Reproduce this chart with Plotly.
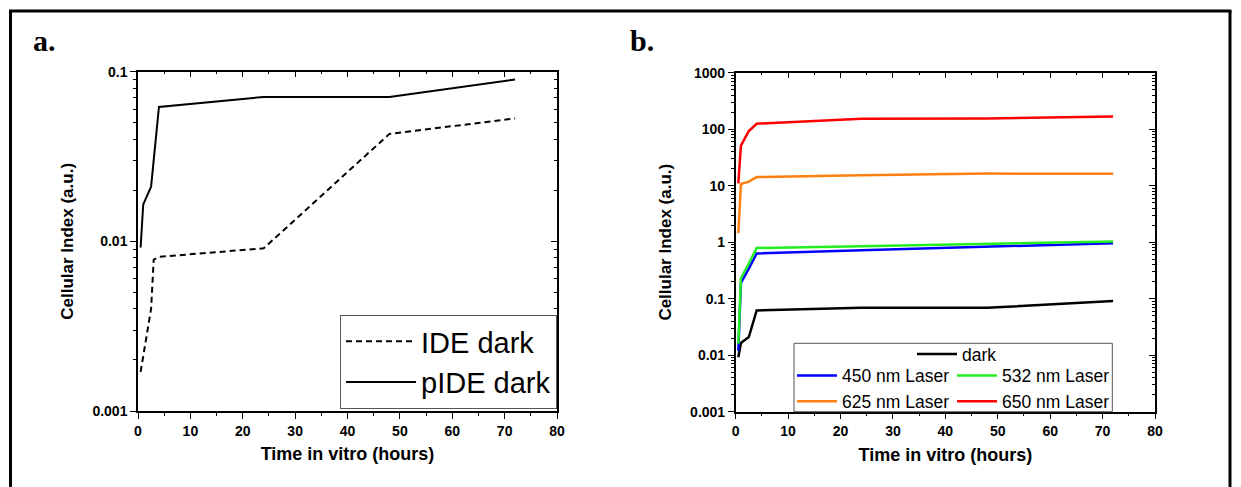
import plotly.graph_objects as go

# ---------------- data ----------------
# Panel a
time_ide = [0.5, 1.5, 2.5, 3.0, 4.0, 24.0, 48.0, 72.0]
ide_dark = [0.0017, 0.0026, 0.0040, 0.0078, 0.0081, 0.0091, 0.043, 0.053]
time_pide = [0.5, 1.0, 2.5, 4.0, 24.0, 48.0, 72.0]
pide_dark = [0.0092, 0.0165, 0.021, 0.062, 0.071, 0.071, 0.090]

# Panel b
time_b = [0.5, 1.0, 2.5, 4.0, 24.0, 48.0, 72.0]
dark_b = [0.0092, 0.0165, 0.021, 0.062, 0.069, 0.069, 0.091]
laser_450 = [0.012, 0.19, 0.34, 0.63, 0.72, 0.84, 0.96]
laser_532 = [0.016, 0.23, 0.42, 0.79, 0.85, 0.93, 1.03]
laser_625 = [1.45, 10.7, 11.8, 14.2, 15.3, 16.4, 16.2]
laser_650 = [11.0, 51.0, 93.0, 125.0, 153.0, 155.0, 168.0]

# tick labels
x_ticks = [0, 10, 20, 30, 40, 50, 60, 70, 80]
ya_tickvals = [0.001, 0.01, 0.1]
ya_ticktext = ["0.001", "0.01", "0.1"]
yb_tickvals = [0.001, 0.01, 0.1, 1, 10, 100, 1000]
yb_ticktext = ["0.001", "0.01", "0.1", "1", "10", "100", "1000"]

W, H = 1241, 487
OFF = 8  # page body margin offset
FONT = "Arial, 'Liberation Sans', sans-serif"


def px_x(p):
    return (p - OFF) / W


def px_y(p):
    return 1 - (p - OFF) / H


fig = go.Figure()

# ---- panel a traces ----
fig.add_trace(go.Scatter(x=time_ide, y=ide_dark, mode="lines", name="IDE dark",
                         line=dict(color="black", width=2, dash="6px,4px"),
                         xaxis="x", yaxis="y", legend="legend"))
fig.add_trace(go.Scatter(x=time_pide, y=pide_dark, mode="lines", name="pIDE dark",
                         line=dict(color="black", width=2),
                         xaxis="x", yaxis="y", legend="legend"))

# ---- panel b traces ----
fig.add_trace(go.Scatter(x=time_b, y=dark_b, mode="lines", name="dark",
                         line=dict(color="black", width=2.5),
                         xaxis="x2", yaxis="y2", legend="legend2"))
fig.add_trace(go.Scatter(x=time_b, y=laser_450, mode="lines", name="450 nm Laser",
                         line=dict(color="#0000FF", width=2.5),
                         xaxis="x2", yaxis="y2", legend="legend3"))
fig.add_trace(go.Scatter(x=time_b, y=laser_532, mode="lines", name="532 nm Laser",
                         line=dict(color="#22EE22", width=2.5),
                         xaxis="x2", yaxis="y2", legend="legend4"))
fig.add_trace(go.Scatter(x=time_b, y=laser_625, mode="lines", name="625 nm Laser",
                         line=dict(color="#FF8010", width=2.5),
                         xaxis="x2", yaxis="y2", legend="legend3"))
fig.add_trace(go.Scatter(x=time_b, y=laser_650, mode="lines", name="650 nm Laser",
                         line=dict(color="#FF0000", width=2.5),
                         xaxis="x2", yaxis="y2", legend="legend4"))

# dummy traces so the mirrored (inside-tick) axes are drawn
for xa, ya in (("x3", "y"), ("x", "y3"), ("x4", "y2"), ("x2", "y4")):
    fig.add_trace(go.Scatter(x=[None], y=[None], xaxis=xa, yaxis=ya,
                             showlegend=False, hoverinfo="skip"))

tickfont = dict(family=FONT, size=14, color="black", weight="bold")
xtitlefont = dict(family=FONT, size=18, color="black", weight="bold")
ytitlefont = dict(family=FONT, size=17, color="black", weight="bold")

dom_xa = [px_x(138), px_x(557)]
dom_ya = [px_y(411), px_y(71.7)]
dom_xb = [px_x(735.7), px_x(1155)]
dom_yb = [px_y(411.7), px_y(72.7)]

common_x = dict(range=[0, 80], tickvals=x_ticks, ticks="outside", ticklen=6, tickwidth=1.2,
                tickcolor="black", showline=True, linecolor="black", linewidth=1.5,
                showgrid=False, zeroline=False, tickfont=tickfont, automargin=False,
                minor=dict(dtick=5, ticks="outside", ticklen=3, tickwidth=1.2, tickcolor="black",
                           showgrid=False))
common_y = dict(type="log", ticks="outside", ticklen=6, tickwidth=1.2, tickcolor="black",
                showline=True, linecolor="black", linewidth=1.5, showgrid=False,
                zeroline=False, tickfont=tickfont, automargin=False,
                minor=dict(dtick="D1", ticks="outside", ticklen=3, tickwidth=1, tickcolor="black",
                           showgrid=False))
mirror_x = dict(side="top", range=[0, 80], tickvals=x_ticks,
                ticks="inside", ticklen=6, tickwidth=1.2, tickcolor="black",
                showticklabels=False, showline=True, linecolor="black", linewidth=1.5,
                showgrid=False, zeroline=False, automargin=False,
                minor=dict(dtick=5, ticks="inside", ticklen=3, tickwidth=1.2, tickcolor="black"))
mirror_y = dict(side="right", type="log", ticks="inside", ticklen=6, tickwidth=1.2,
                tickcolor="black", showticklabels=False, showline=True, linecolor="black",
                linewidth=1.5, showgrid=False, zeroline=False, automargin=False,
                minor=dict(dtick="D1", ticks="inside", ticklen=3, tickwidth=1, tickcolor="black"))

fig.update_layout(
    template="none",
    width=W, height=H, autosize=False,
    margin=dict(l=0, r=0, t=0, b=0, pad=0),
    paper_bgcolor="white", plot_bgcolor="white",
    font=dict(family=FONT, color="black"),
    xaxis=dict(domain=dom_xa, anchor="y",
               title=dict(text="Time in vitro (hours)", font=xtitlefont, standoff=10),
               **common_x),
    yaxis=dict(domain=dom_ya, anchor="x", range=[-3, -1], tickvals=ya_tickvals,
               ticktext=ya_ticktext,
               title=dict(text="Cellular Index (a.u.)", font=ytitlefont, standoff=14),
               **common_y),
    xaxis2=dict(domain=dom_xb, anchor="y2",
                title=dict(text="Time in vitro (hours)", font=xtitlefont, standoff=10),
                **common_x),
    yaxis2=dict(domain=dom_yb, anchor="x2", range=[-3, 3], tickvals=yb_tickvals,
                ticktext=yb_ticktext,
                title=dict(text="Cellular Index (a.u.)", font=ytitlefont, standoff=14),
                **common_y),
    # mirrored axes with inward ticks (top / right)
    xaxis3=dict(overlaying="x", anchor="y", **mirror_x),
    yaxis3=dict(overlaying="y", anchor="x", range=[-3, -1], tickvals=ya_tickvals, **mirror_y),
    xaxis4=dict(overlaying="x2", anchor="y2", **mirror_x),
    yaxis4=dict(overlaying="y2", anchor="x2", range=[-3, 3], tickvals=yb_tickvals, **mirror_y),
    legend=dict(x=px_x(557), xanchor="right", y=px_y(362), yanchor="middle",
                bgcolor="white", bordercolor="#555555", borderwidth=1,
                font=dict(family=FONT, size=29, color="black"), itemwidth=70,
                tracegroupgap=0),
    legend2=dict(x=px_x(957), xanchor="center", y=px_y(336), yanchor="top",
                 bgcolor="rgba(0,0,0,0)", borderwidth=0,
                 font=dict(family=FONT, size=17.5, color="black"), itemwidth=40),
    legend3=dict(x=px_x(792), xanchor="left", y=px_y(357.5), yanchor="top",
                 bgcolor="rgba(0,0,0,0)", borderwidth=0,
                 font=dict(family=FONT, size=17.5, color="black"), itemwidth=40),
    legend4=dict(x=px_x(952), xanchor="left", y=px_y(357.5), yanchor="top",
                 bgcolor="rgba(0,0,0,0)", borderwidth=0,
                 font=dict(family=FONT, size=17.5, color="black"), itemwidth=40),
    showlegend=True,
)

# legend box for panel b and outer frame
fig.add_shape(type="rect", xref="paper", yref="paper",
              x0=px_x(794), x1=px_x(1112.3), y0=px_y(411.7), y1=px_y(343.3),
              line=dict(color="#555555", width=1), layer="above")
frame = dict(color="black", width=3)
fig.add_shape(type="line", xref="paper", yref="paper", x0=px_x(9), x1=px_x(1231.5),
              y0=px_y(11), y1=px_y(11), line=frame)
fig.add_shape(type="line", xref="paper", yref="paper", x0=px_x(10.5), x1=px_x(10.5),
              y0=px_y(11), y1=px_y(520), line=frame)
fig.add_shape(type="line", xref="paper", yref="paper", x0=px_x(1230), x1=px_x(1230),
              y0=px_y(11), y1=px_y(520), line=frame)

# panel letters
serif = dict(family="'Times New Roman', 'Liberation Serif', serif", size=30, color="black",
             weight="bold")
fig.add_annotation(text="a.", x=px_x(31), y=px_y(52), xref="paper", yref="paper",
                   xanchor="left", yanchor="bottom", showarrow=False, font=serif,
                   yshift=-7)
fig.add_annotation(text="b.", x=px_x(628), y=px_y(52), xref="paper", yref="paper",
                   xanchor="left", yanchor="bottom", showarrow=False, font=serif,
                   yshift=-7)

fig.write_html("out.html")
